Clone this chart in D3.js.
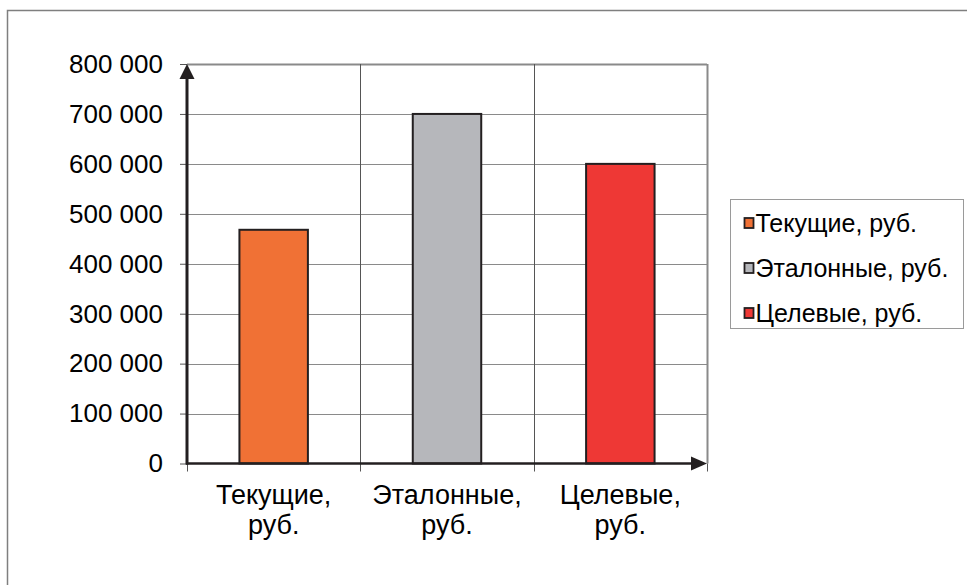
<!DOCTYPE html>
<html>
<head>
<meta charset="utf-8">
<script src="https://cdn.jsdelivr.net/npm/d3@7"></script>
<style>
  html, body { margin: 0; padding: 0; background: #fff; }
  svg { display: block; font-family: Arial, "Liberation Sans", sans-serif; }
</style>
</head>
<body>
<svg id="chart" width="967" height="585"></svg>
<script>
// Chart data
const categories = ["Текущие, руб.", "Эталонные, руб.", "Целевые, руб."];
const categoryLines = [["Текущие,", "руб."], ["Эталонные,", "руб."], ["Целевые,", "руб."]];
const values = [468000, 700000, 600000];
const colors = ["#F07135", "#B6B7BB", "#EE3835"];
const yTicks = [0, 100000, 200000, 300000, 400000, 500000, 600000, 700000, 800000];
const yTickLabels = ["0", "100 000", "200 000", "300 000", "400 000", "500 000", "600 000", "700 000", "800 000"];

const svg = d3.select("#chart");

// Outer chart frame
svg.append("rect")
  .attr("x", 7.5).attr("y", 10.5)
  .attr("width", 980).attr("height", 600)
  .attr("fill", "#fff").attr("stroke", "#7f7f7f").attr("stroke-width", 1.5);

const plot = { left: 187, right: 707, top: 64, bottom: 463.5 };

const x = d3.scaleBand().domain(categories).range([plot.left, plot.right]).padding(0);
const y = d3.scaleLinear().domain([0, 800000]).range([plot.bottom, plot.top]);

// Horizontal gridlines
svg.append("g").selectAll("line").data(yTicks.slice(1)).join("line")
  .attr("x1", plot.left).attr("x2", plot.right)
  .attr("y1", d => Math.round(y(d)) + 0.5).attr("y2", d => Math.round(y(d)) + 0.5)
  .attr("stroke", "#8a8a8a").attr("stroke-width", d => d === 800000 ? 2 : 1);

// Vertical gridlines at category boundaries
const bounds = categories.slice(1).map(c => x(c)).concat([plot.right]);
svg.append("g").selectAll("line").data(bounds).join("line")
  .attr("x1", d => Math.round(d) + 0.5).attr("x2", d => Math.round(d) + 0.5)
  .attr("y1", plot.top).attr("y2", plot.bottom)
  .attr("stroke", (d, i) => i === bounds.length - 1 ? "#8a8a8a" : "#555")
  .attr("stroke-width", (d, i) => i === bounds.length - 1 ? 2 : 1);

// Bars
const barW = x.bandwidth() * 0.395;
svg.append("g").selectAll("rect").data(values).join("rect")
  .attr("x", (d, i) => x(categories[i]) + (x.bandwidth() - barW) / 2)
  .attr("y", d => y(d))
  .attr("width", barW)
  .attr("height", d => y(0) - y(d))
  .attr("fill", (d, i) => colors[i])
  .attr("stroke", "#231f20").attr("stroke-width", 2);

// Y axis with tick marks and labels
const yAxis = d3.axisLeft(y).tickValues(yTicks)
  .tickFormat((d, i) => yTickLabels[i]).tickSize(7).tickPadding(17);
const yg = svg.append("g").attr("transform", `translate(${plot.left},0)`).call(yAxis);
yg.select(".domain").remove();
yg.selectAll(".tick line").attr("stroke", "#555");
yg.selectAll(".tick text").attr("font-size", 26).attr("fill", "#000")
  .attr("font-family", "Arial, 'Liberation Sans', sans-serif");

// X tick marks at category boundaries
const xBoundaries = [plot.left].concat(bounds);
svg.append("g").selectAll("line").data(xBoundaries).join("line")
  .attr("x1", d => Math.round(d) + 0.5).attr("x2", d => Math.round(d) + 0.5)
  .attr("y1", plot.bottom).attr("y2", plot.bottom + 8)
  .attr("stroke", "#555");

// Axis lines with arrowheads
svg.append("line")
  .attr("x1", plot.left).attr("x2", plot.left)
  .attr("y1", plot.bottom + 1).attr("y2", plot.top + 10)
  .attr("stroke", "#231f20").attr("stroke-width", 3);
svg.append("path")
  .attr("d", `M${plot.left},${plot.top} L${plot.left - 7.5},${plot.top + 15} L${plot.left + 7.5},${plot.top + 15} Z`)
  .attr("fill", "#231f20");
svg.append("line")
  .attr("x1", plot.left - 1).attr("x2", plot.right - 10)
  .attr("y1", plot.bottom).attr("y2", plot.bottom)
  .attr("stroke", "#231f20").attr("stroke-width", 2.5);
svg.append("path")
  .attr("d", `M${plot.right},${plot.bottom} L${plot.right - 16},${plot.bottom - 7} L${plot.right - 16},${plot.bottom + 7} Z`)
  .attr("fill", "#231f20");

// Category labels (two lines each)
const labels = svg.append("g").selectAll("text").data(categoryLines).join("text")
  .attr("x", (d, i) => x(categories[i]) + x.bandwidth() / 2)
  .attr("y", 504)
  .attr("text-anchor", "middle")
  .attr("font-size", 27).attr("fill", "#000");
labels.selectAll("tspan").data(d => d).join("tspan")
  .attr("x", function () { return d3.select(this.parentNode).attr("x"); })
  .attr("dy", (d, i) => i === 0 ? 0 : 30)
  .text(d => d);

// Legend
const legend = svg.append("g");
legend.append("rect")
  .attr("x", 730.5).attr("y", 199.5).attr("width", 233).attr("height", 129)
  .attr("fill", "#fff").attr("stroke", "#9a9a9a").attr("stroke-width", 1);
const rowY = [223, 268, 313];
const items = legend.selectAll("g.item").data(categories).join("g").attr("class", "item")
  .attr("transform", (d, i) => `translate(744,${rowY[i]})`);
items.append("rect")
  .attr("x", 0.5).attr("y", -5).attr("width", 9).attr("height", 10)
  .attr("fill", (d, i) => colors[i]).attr("stroke", "#231f20").attr("stroke-width", 1.8);
items.append("text")
  .attr("x", 11.5).attr("y", 9)
  .attr("font-size", 25).attr("fill", "#000")
  .text(d => d);
</script>
</body>
</html>
